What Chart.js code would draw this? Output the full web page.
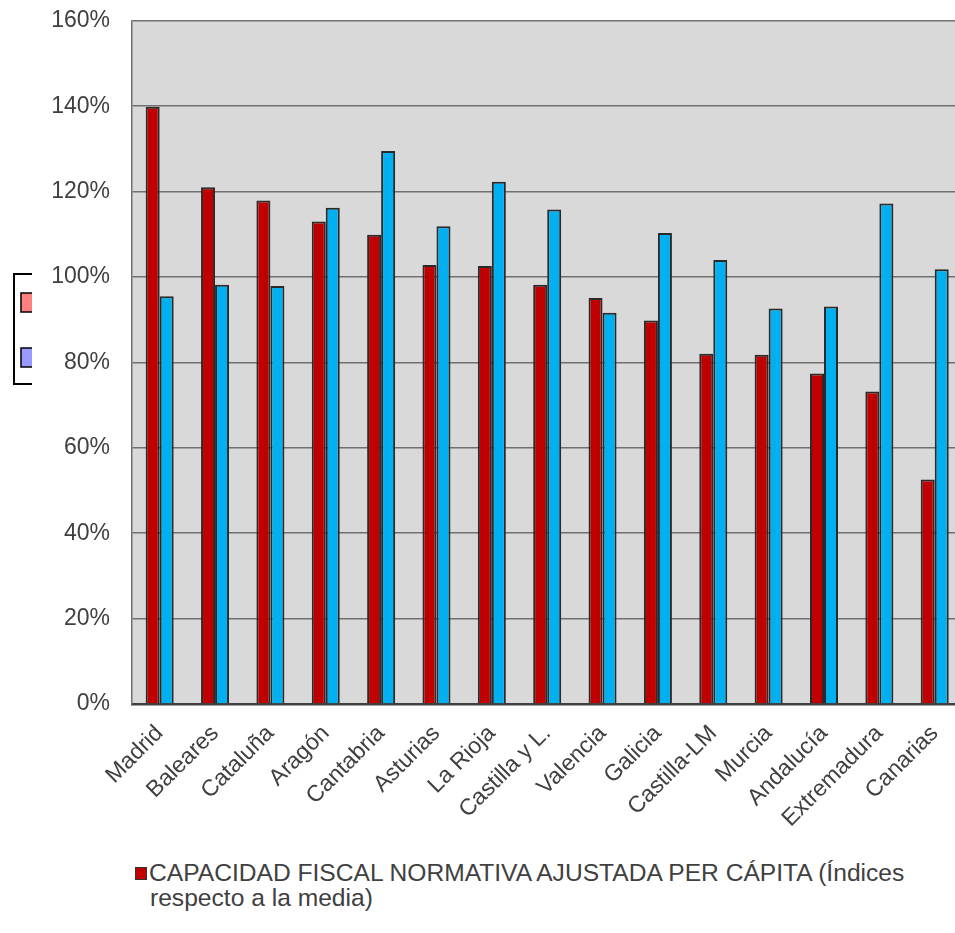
<!DOCTYPE html>
<html>
<head>
<meta charset="utf-8">
<script src="https://cdn.jsdelivr.net/npm/chart.js@4"></script>
<style>
  html, body { margin: 0; padding: 0; background: #fff; overflow: hidden; width: 955px; height: 933px; }
  #wrap { position: absolute; left: 0; top: -15px; width: 970px; height: 865px; }
  #leyenda {
    position: absolute; left: 135px; top: 860px;
    font-family: "Liberation Sans", Arial, sans-serif; font-size: 24.6px; line-height: 25px;
    color: #404040; white-space: nowrap;
  }
  #leyenda .cuadro {
    display: inline-block; width: 10px; height: 11px; background: #c00000;
    border: 1px solid #333; margin-right: 2px; vertical-align: 1px;
  }
  #leyenda .l2 { padding-left: 15px; }
</style>
</head>
<body>
<div id="wrap"><canvas id="grafico"></canvas></div>
<div id="leyenda">
  <div><span class="cuadro"></span>CAPACIDAD FISCAL NORMATIVA AJUSTADA PER CÁPITA (Índices</div>
  <div class="l2">respecto a la media)</div>
</div>
<script>
const categorias = ["Madrid", "Baleares", "Cataluña", "Aragón", "Cantabria", "Asturias", "La Rioja",
  "Castilla y L.", "Valencia", "Galicia", "Castilla-LM", "Murcia", "Andalucía", "Extremadura", "Canarias"];
const capacidadFiscal = [139.9, 121.0, 117.9, 113.0, 109.9, 102.8, 102.6, 98.2, 95.1, 89.8, 82.0, 81.8, 77.4, 73.2, 52.6];
const segundaSerie = [95.5, 98.2, 97.9, 116.2, 129.5, 111.9, 122.3, 115.8, 91.6, 110.3, 104.0, 92.6, 93.1, 117.2, 101.8];

const fuente = "'Liberation Sans', Arial, sans-serif";

// fondo gris del area de trazado
const fondoPlot = {
  id: "fondoPlot",
  beforeDraw(chart) {
    const { ctx, chartArea: a } = chart;
    ctx.save();
    ctx.fillStyle = "#d9d9d9";
    ctx.fillRect(a.left, a.top, a.right - a.left, a.bottom - a.top);
    ctx.restore();
  },
};

// restos de la leyenda antigua que asoman por la izquierda
// (el canvas esta desplazado 15px hacia arriba)
const leyendaCortada = {
  id: "leyendaCortada",
  afterDraw(chart) {
    const ctx = chart.ctx;
    ctx.save();
    ctx.translate(0, 15);
    ctx.beginPath();
    ctx.rect(0, 0, 32, 850);
    ctx.clip();
    ctx.strokeStyle = "#000";
    ctx.lineWidth = 2;
    ctx.strokeRect(14, 274, 40, 110);
    ctx.lineWidth = 1.5;
    ctx.fillStyle = "#ff8080";
    ctx.fillRect(21, 293, 14, 19);
    ctx.strokeRect(21, 293, 14, 19);
    ctx.fillStyle = "#9999ff";
    ctx.fillRect(21, 348, 14, 19);
    ctx.strokeRect(21, 348, 14, 19);
    ctx.restore();
  },
};

new Chart(document.getElementById("grafico"), {
  type: "bar",
  data: {
    labels: categorias,
    datasets: [
      {
        label: "CAPACIDAD FISCAL NORMATIVA AJUSTADA PER CÁPITA (Índices respecto a la media)",
        data: capacidadFiscal,
        backgroundColor: "#c00000",
        borderColor: "#2a2a2a",
        borderWidth: 2,
      },
      {
        label: "Serie 2",
        data: segundaSerie,
        backgroundColor: "#00b0f0",
        borderColor: "#2a2a2a",
        borderWidth: 2,
      },
    ],
  },
  options: {
    responsive: true,
    maintainAspectRatio: false,
    animation: false,
    layout: { padding: { top: 6, right: 7.6, bottom: 0, left: 0 } },
    datasets: { bar: { categoryPercentage: 0.506, barPercentage: 1.0 } },
    plugins: {
      legend: { display: false },
      tooltip: { enabled: false },
    },
    scales: {
      x: {
        grid: { display: false },
        border: { color: "#404040", width: 2.5 },
        ticks: {
          color: "#404040",
          font: { family: fuente, size: 23 },
          maxRotation: 45,
          minRotation: 45,
          padding: 8,
        },
        afterFit(scale) { scale.height = 146; },
      },
      y: {
        min: 0,
        max: 160,
        grid: { color: "#707070", lineWidth: 1.5, drawTicks: false },
        border: { color: "#707070", width: 1.5 },
        ticks: {
          stepSize: 20,
          color: "#404040",
          font: { family: fuente, size: 23 },
          padding: 22,
          callback: (v) => v + "%",
        },
        afterFit(scale) { scale.width = 132; },
      },
    },
  },
  plugins: [fondoPlot, leyendaCortada],
});
</script>
</body>
</html>
